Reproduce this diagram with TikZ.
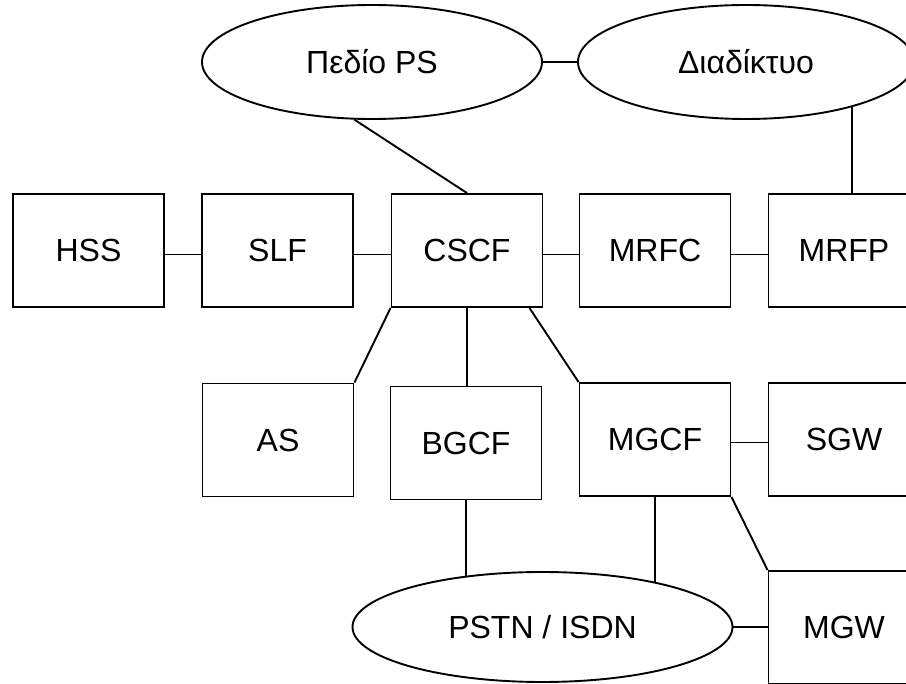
\documentclass[tikz,border=0pt]{standalone}
\usepackage{fontspec}
\setmainfont{Liberation Sans}
\usetikzlibrary{shapes.geometric}

\begin{document}
\begin{tikzpicture}
% one unit is one pixel of the original, y pointing down
[x=0.5pt,y=-0.5pt,line width=0.95pt,
 element/.style={draw,rectangle,minimum width=75.5pt,minimum height=56.5pt,inner sep=0pt,font=\fontsize{16}{19}\selectfont},
 network/.style={draw,ellipse,inner sep=0pt,font=\fontsize{16}{19}\selectfont}]
\useasboundingbox (0,0) rectangle (906,684);
\clip (0,0) rectangle (906,684);
%The two clouds on top:
\node[network,minimum width=170pt,minimum height=57pt] (ps) at (372,62) {Πεδίο PS};
\node[network,minimum width=168pt,minimum height=57pt] (net) at (746,62) {Διαδίκτυο};
%First row:
\node[element] (hss) at (88.5,250.5) {HSS};
\node[element] (slf) at (277.5,250.5) {SLF};
\node[element] (cscf) at (467,250.5) {CSCF};
\node[element] (mrfc) at (655,250.5) {MRFC};
\node[element] (mrfp) at (844,250.5) {MRFP};
%Second row:
\node[element] (as) at (278,440) {AS};
\node[element] (bgcf) at (466,443) {BGCF};
\node[element] (mgcf) at (655,439.5) {MGCF};
\node[element] (sgw) at (844,439.5) {SGW};
%Bottom:
\node[network,minimum width=190pt,minimum height=55pt] (pstn) at (542.5,627) {PSTN / ISDN};
\node[element] (mgw) at (844,627.5) {MGW};

\draw (ps.east) -- (net.west);
\draw (ps.253) -- (cscf.north);
\draw (net.-23) -- (net.-23 |- mrfp.north);
\draw ([yshift=-2pt]hss.east) -- ([yshift=-2pt]slf.west);
\draw ([yshift=-2pt]slf.east) -- ([yshift=-2pt]cscf.west);
\draw ([yshift=-2pt]cscf.east) -- ([yshift=-2pt]mrfc.west);
\draw ([yshift=-2pt]mrfc.east) -- ([yshift=-2pt]mrfp.west);
\draw (cscf.south west) -- (as.north east);
\draw (cscf.south) -- (cscf.south |- bgcf.north);
\draw ([xshift=-7pt]cscf.south east) -- (mgcf.north west);
\draw ([yshift=-1.5pt]mgcf.east) -- ([yshift=-1.5pt]sgw.west);
\draw (bgcf.south) -- (bgcf.south |- pstn.147);
\draw (mgcf.south) -- (mgcf.south |- pstn.21);
\draw (mgcf.south east) -- (mgw.north west);
\draw (pstn.east) -- (pstn.east -| mgw.west);
\end{tikzpicture}
\end{document}
